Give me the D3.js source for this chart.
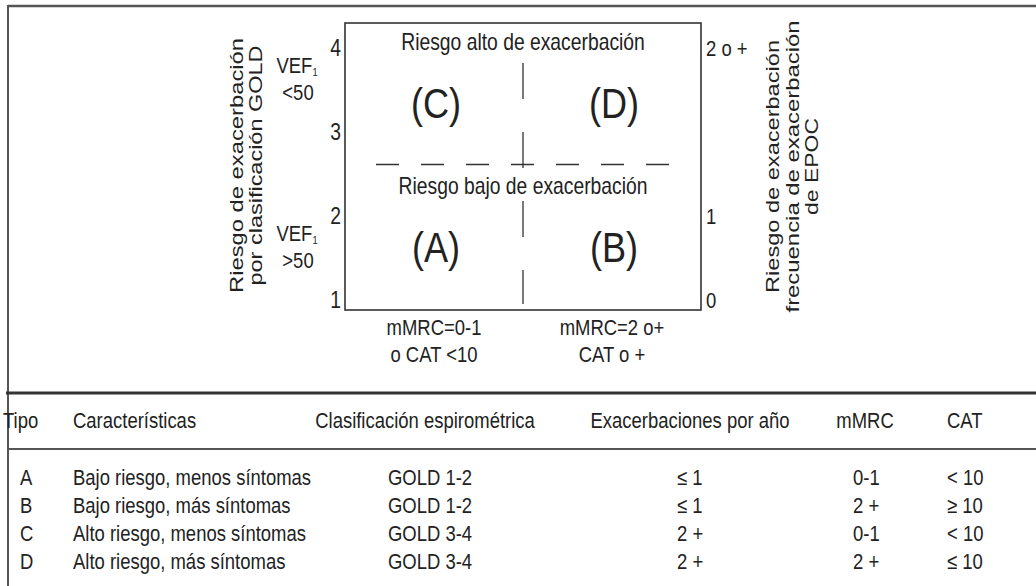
<!DOCTYPE html>
<html>
<head>
<meta charset="utf-8">
<script src="https://cdn.jsdelivr.net/npm/d3@7"></script>
<style>
  body { margin: 0; background: #fff; }
  svg { display: block; }
  .narrow { font-family: "Liberation Sans", Arial, sans-serif; fill: #222; }
  .wide { font-family: "Liberation Sans", Arial, sans-serif; fill: #222; }
</style>
</head>
<body>
<svg width="1036" height="586"></svg>
<script>
// quadrant chart data
const goldTicks = [1, 2, 3, 4];
const exacLabels = ["0", "1", "2 o +"];
const exacAtGold = [1, 2, 4];
const columns = ["low", "high"];
const columnLabels = [["mMRC=0-1", "o CAT <10"], ["mMRC=2 o+", "CAT o +"]];
const risks = ["alto", "bajo"];
const riskTitles = ["Riesgo alto de exacerbación", "Riesgo bajo de exacerbación"];
const quadLetters = ["C", "D", "A", "B"];
const quadRisk = ["alto", "alto", "bajo", "bajo"];
const quadColumn = ["low", "high", "low", "high"];
const vefLabels = [["VEF", "<50"], ["VEF", ">50"]];
const vefAtGold = [3.55, 1.55];
const leftTitle = ["Riesgo de exacerbación", "por clasificación GOLD"];
const rightTitle = ["Riesgo de exacerbación", "frecuencia de exacerbación", "de EPOC"];

// table data
const headers = ["Tipo", "Características", "Clasificación espirométrica", "Exacerbaciones por año", "mMRC", "CAT"];
const tipos = ["A", "B", "C", "D"];
const caracteristicas = ["Bajo riesgo, menos síntomas", "Bajo riesgo, más síntomas", "Alto riesgo, menos síntomas", "Alto riesgo, más síntomas"];
const clasificacion = ["GOLD 1-2", "GOLD 1-2", "GOLD 3-4", "GOLD 3-4"];
const exacerbaciones = ["≤ 1", "≤ 1", "2 +", "2 +"];
const mmrc = ["0-1", "2 +", "0-1", "2 +"];
const cat = ["< 10", "≥ 10", "< 10", "≤ 10"];

const svg = d3.select("svg");
const box = { left: 345, right: 701, top: 23, bottom: 310 };
const SQUEEZE = 0.84; // condensed look, no narrow font installed

// condensed text: squeeze horizontally around the anchor point
function narrow(parent, x, y, size, anchor, txt) {
  const g = parent.append("g")
    .attr("transform", `translate(${x},${y}) scale(${SQUEEZE},1)`);
  return g.append("text").attr("class", "narrow")
    .attr("text-anchor", anchor).attr("font-size", size)
    .text(txt);
}

// outer frame
svg.append("line").attr("x1", 8).attr("x2", 1036).attr("y1", 6).attr("y2", 6)
  .attr("stroke", "#555").attr("stroke-width", 2.5);
svg.append("line").attr("x1", 8).attr("x2", 8).attr("y1", 5).attr("y2", 586)
  .attr("stroke", "#555").attr("stroke-width", 2);

// scales
const x = d3.scaleBand().domain(columns).range([box.left, box.right]);
const yRisk = d3.scaleBand().domain(risks).range([box.top, box.bottom]);
const yGold = d3.scaleLinear().domain([1, 4]).range([300, 48]);

// box
svg.append("rect")
  .attr("x", box.left).attr("y", box.top)
  .attr("width", box.right - box.left).attr("height", box.bottom - box.top)
  .attr("fill", "none").attr("stroke", "#333").attr("stroke-width", 1.6);

// dashed dividers
svg.append("line")
  .attr("x1", box.left + 31).attr("x2", box.right - 32)
  .attr("y1", yRisk("bajo") - 2).attr("y2", yRisk("bajo") - 2)
  .attr("stroke", "#333").attr("stroke-width", 1.3).attr("stroke-dasharray", "23 22");
svg.append("line")
  .attr("x1", x("high")).attr("x2", x("high"))
  .attr("y1", box.top + 40).attr("y2", box.bottom - 6)
  .attr("stroke", "#333").attr("stroke-width", 1.3).attr("stroke-dasharray", "36 33");

// risk titles
risks.forEach((r, i) => {
  narrow(svg, (box.left + box.right) / 2, yRisk(r) + 27, 23, "middle", riskTitles[i]);
});

// quadrant letters
quadLetters.forEach((d, i) => {
  narrow(svg, x(quadColumn[i]) + x.bandwidth() / 2 + 2, yRisk(quadRisk[i]) + 95, 43, "middle", `(${d})`);
});

// left ticks
goldTicks.forEach((d) => {
  narrow(svg, box.left - 4, yGold(d) + 8, 23, "end", d);
});

// right ticks
exacLabels.forEach((d, i) => {
  narrow(svg, box.right + 5, yGold(exacAtGold[i]) + 8, 22, "start", d);
});

// VEF1 labels
vefLabels.forEach((lines, i) => {
  const y0 = yGold(vefAtGold[i]);
  const t = narrow(svg, 297, y0 - 13, 22, "middle", null);
  t.append("tspan").text(lines[0]);
  t.append("tspan").attr("font-size", 11).attr("dy", 3).text("1");
  narrow(svg, 298, y0 + 14, 22, "middle", lines[1]);
});

// column labels
columnLabels.forEach((lines, i) => {
  lines.forEach((line, j) => {
    narrow(svg, x(columns[i]) + x.bandwidth() / 2, box.bottom + 25 + j * 27, 22, "middle", line);
  });
});

// rotated axis titles
const midY = (box.top + box.bottom) / 2;
const leftLens = [255, 240];
leftTitle.forEach((line, i) => {
  svg.append("text").attr("class", "wide")
    .attr("transform", `translate(${243 + i * 19},${midY - 1}) rotate(-90)`)
    .attr("text-anchor", "middle").attr("font-size", 19)
    .attr("textLength", leftLens[i]).attr("lengthAdjust", "spacingAndGlyphs")
    .text(line);
});
const rightLens = [253, 292, 97];
rightTitle.forEach((line, i) => {
  svg.append("text").attr("class", "wide")
    .attr("transform", `translate(${779 + i * 19.5},${midY}) rotate(-90)`)
    .attr("text-anchor", "middle").attr("font-size", 19)
    .attr("textLength", rightLens[i]).attr("lengthAdjust", "spacingAndGlyphs")
    .text(line);
});

// table rules
svg.append("line").attr("x1", 6).attr("x2", 1036).attr("y1", 393).attr("y2", 393)
  .attr("stroke", "#333").attr("stroke-width", 3);
svg.append("line").attr("x1", 8).attr("x2", 1036).attr("y1", 449).attr("y2", 449)
  .attr("stroke", "#555").attr("stroke-width", 2);

// table header
const headX = d3.scaleOrdinal().domain(headers).range([3, 73, 425, 690, 865, 947]);
const headAnchor = d3.scaleOrdinal().domain(headers).range(["start", "start", "middle", "middle", "middle", "start"]);
headers.forEach((d) => {
  narrow(svg, headX(d), 428, 22, headAnchor(d), d);
});

// table rows
const rowY = d3.scalePoint().domain(tipos).range([485, 569]);
const cols = [tipos, caracteristicas, clasificacion, exacerbaciones, mmrc, cat];
const colX = [20, 73, 388, 677, 853, 947];
cols.forEach((values, c) => {
  values.forEach((d, i) => {
    narrow(svg, colX[c], rowY(tipos[i]), 22, "start", d);
  });
});
</script>
</body>
</html>
